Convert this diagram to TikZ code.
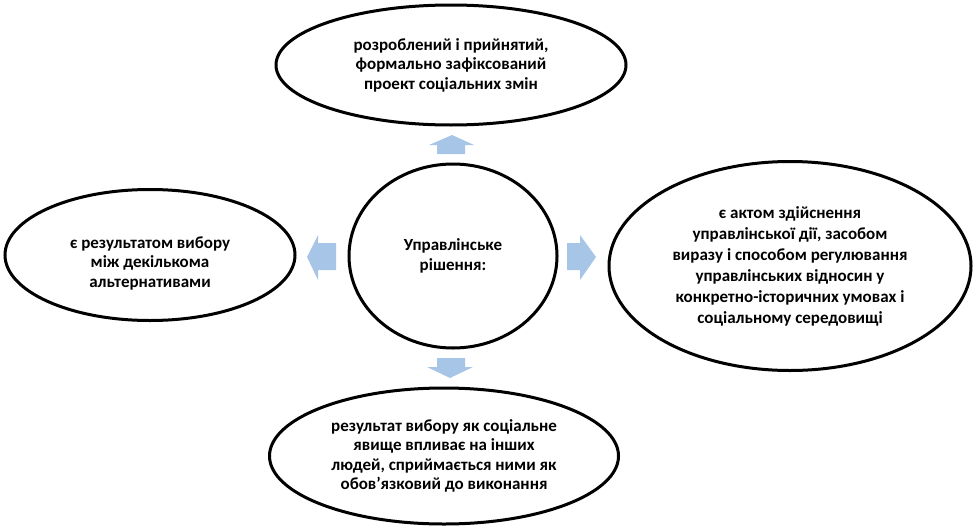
\documentclass[tikz,border=0pt]{standalone}
\usepackage{fontspec}
\setmainfont{Carlito}
\usetikzlibrary{shapes.geometric}
\definecolor{arrowblue}{RGB}{167,197,230}
\tikzset{
  oval/.style={ellipse,draw=black,line width=3pt,inner sep=0pt,align=center,
    font=\fontsize{17}{19.5}\selectfont\bfseries},
  ovaltext/.style={align=center,inner sep=0pt,font=\fontsize{17}{19.5}\selectfont\bfseries},
  blockarrow/.style={fill=arrowblue}
}
\begin{document}
\begin{tikzpicture}[x=1pt,y=-1pt]
\useasboundingbox (0,0) rectangle (976,530);
% ellipses
\node[oval,minimum width=208pt,minimum height=184pt] (rishennya) at (453,256) {Управлінське\\рішення:};
\node[oval,minimum width=350pt,minimum height=120pt] (proekt) at (451,65) {розроблений і прийнятий,\\формально зафіксований\\проект соціальних змін};
\node[oval,minimum width=290pt,minimum height=131pt] (vybir) at (150,255) {};
\node[ovaltext] (vybirtext) at ([yshift=-8pt]vybir.center) {є результатом вибору\\між декількома\\альтернативами};
\node[oval,minimum width=362pt,minimum height=209pt,font=\fontsize{17}{21}\selectfont\bfseries] (akt) at (790,266) {є актом здійснення\\управлінської дії, засобом\\виразу і способом регулювання\\управлінських відносин у\\конкретно-історичних умовах і\\соціальному середовищі};
\node[oval,minimum width=349pt,minimum height=136pt] (yavyshche) at (444,456) {результат вибору як соціальне\\явище впливає на інших\\людей, сприймається ними як\\обов’язковий до виконання};
% arrows
\fill[blockarrow] (452,135)--(474,145)--(465,145)--(465,154)--(437,154)--(437,145)--(429,145)--cycle;
\fill[blockarrow] (307,257)--(318,235)--(318,243)--(336,243)--(336,270)--(318,270)--(318,280)--cycle;
\fill[blockarrow] (596,257)--(580,235)--(580,243)--(567,243)--(567,270)--(580,270)--(580,280)--cycle;
\fill[blockarrow] (450,378)--(473,367)--(465,367)--(465,358)--(437,358)--(437,367)--(427,367)--cycle;
\end{tikzpicture}
\end{document}
